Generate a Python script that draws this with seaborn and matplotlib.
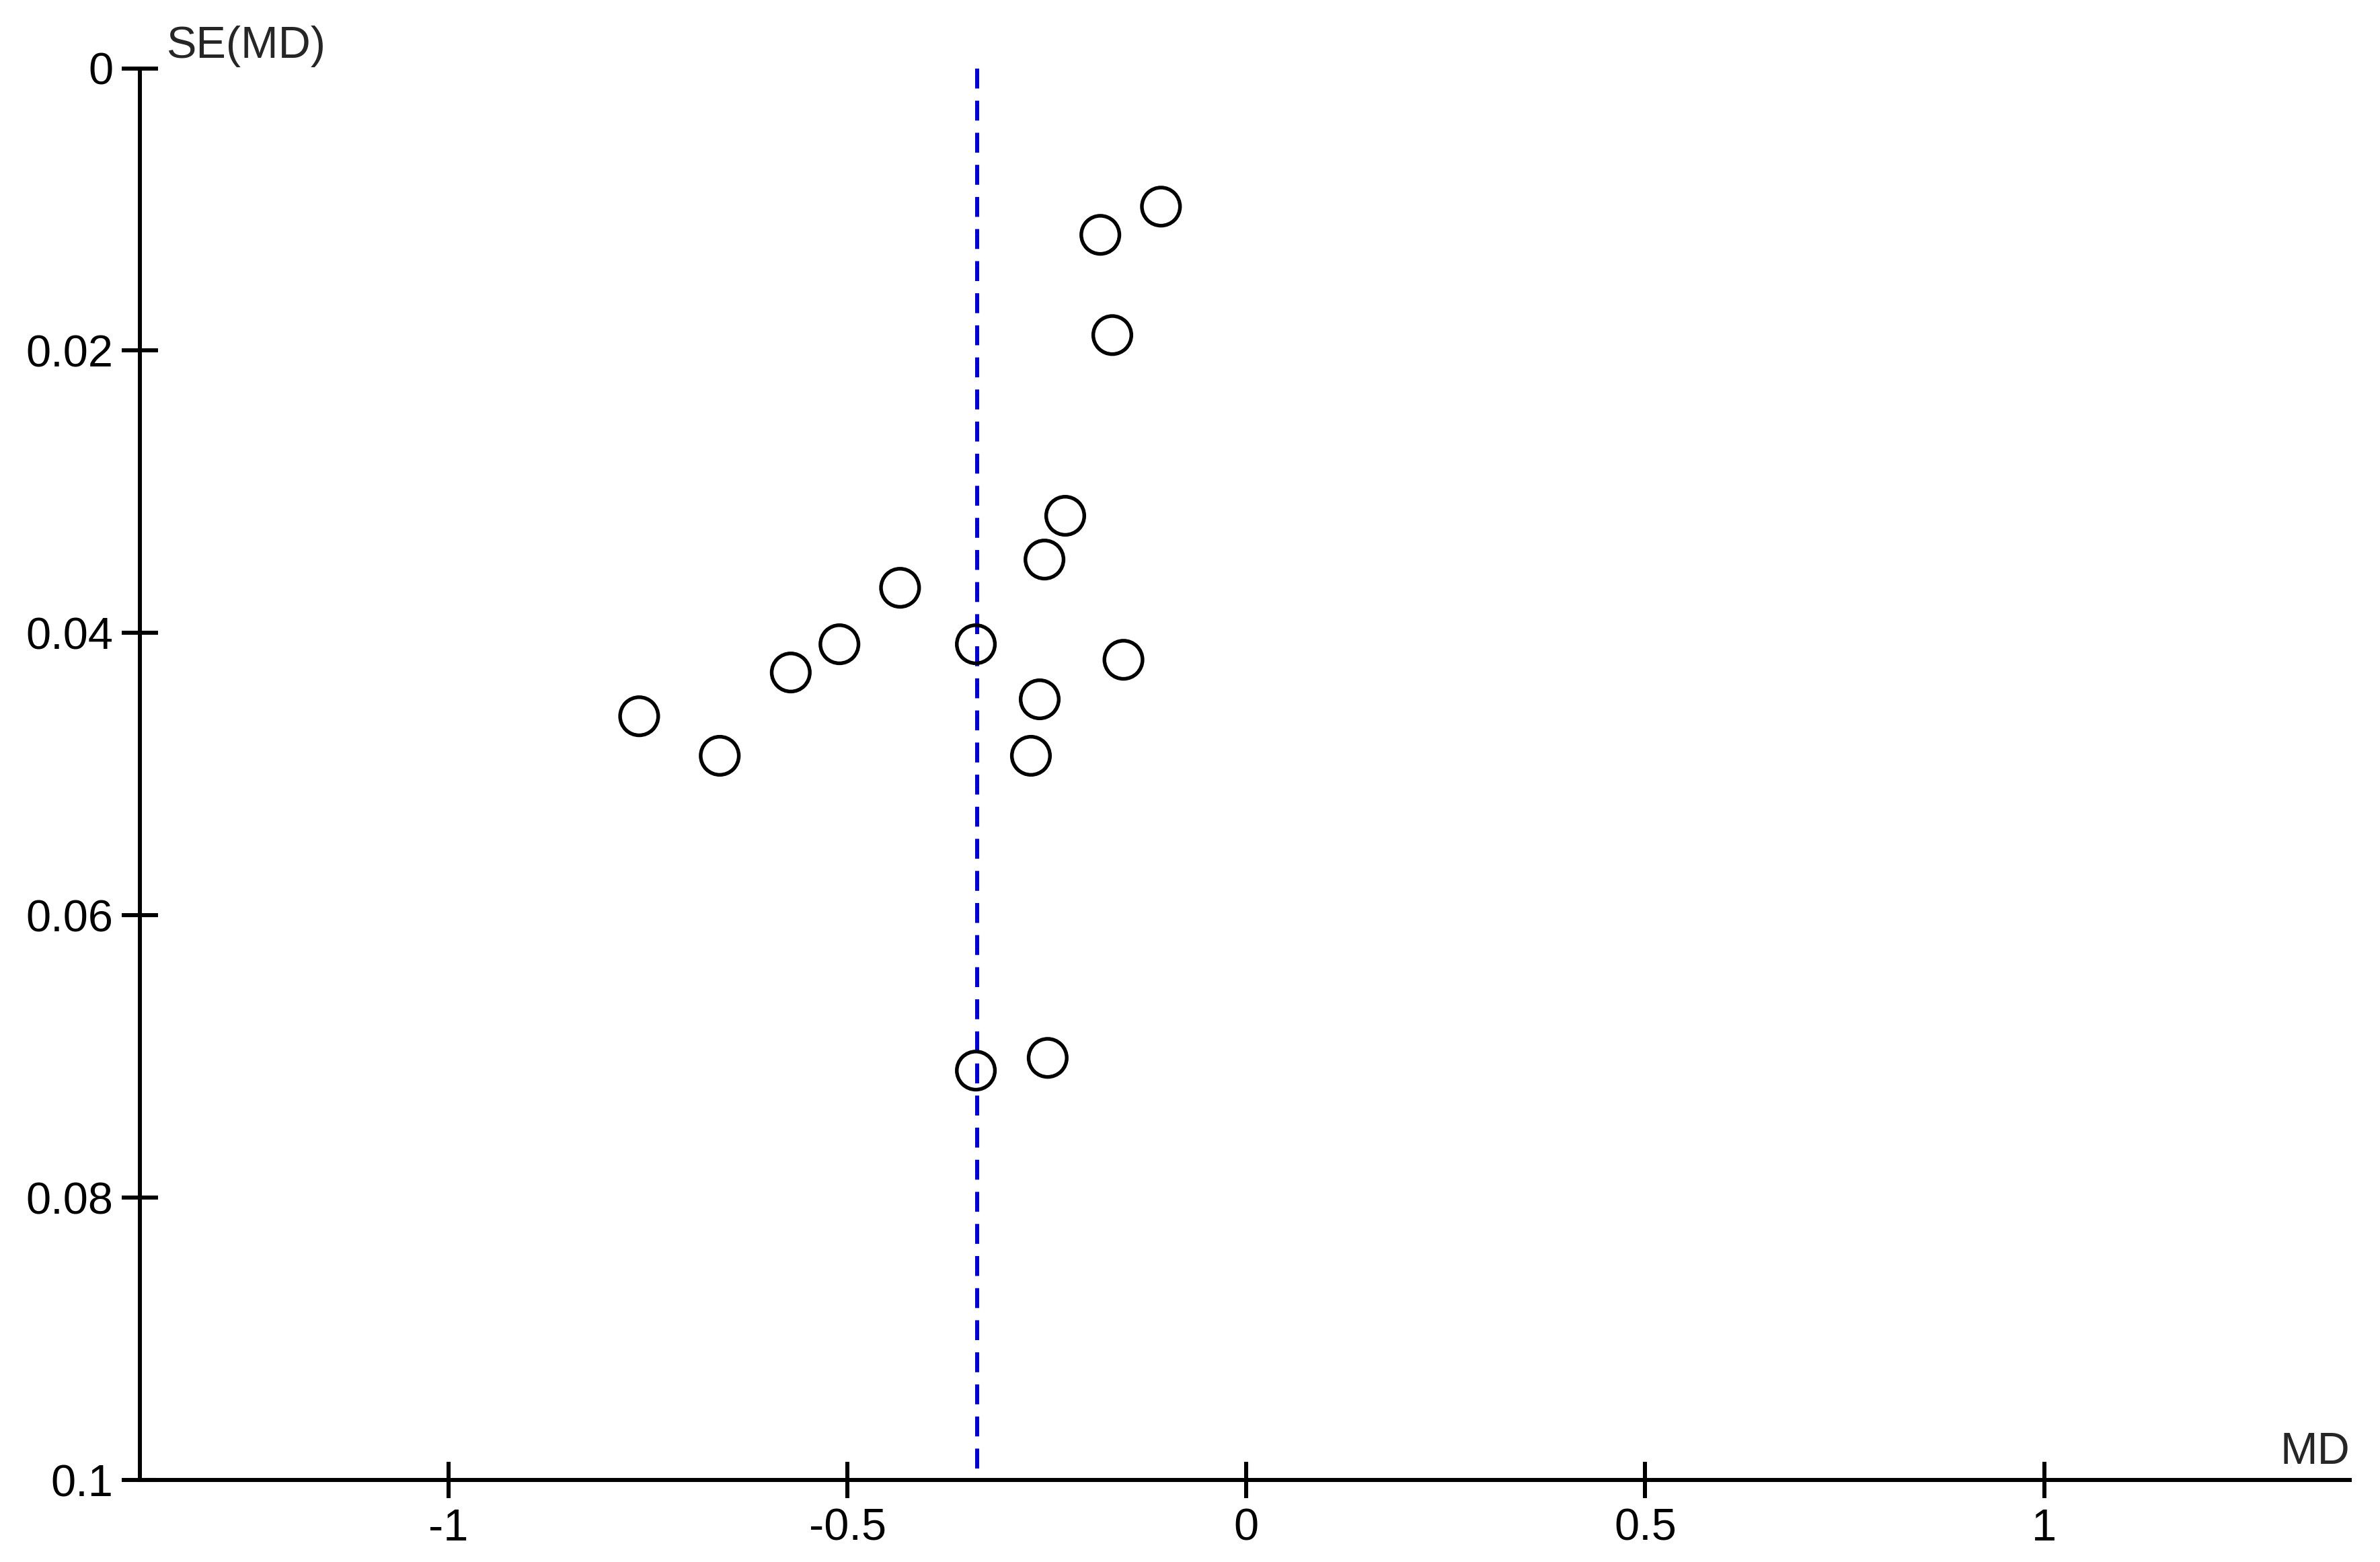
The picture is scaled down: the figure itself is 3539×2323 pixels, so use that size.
import numpy as np
import pandas as pd
import matplotlib
matplotlib.use("Agg")
import matplotlib.pyplot as plt
import seaborn as sns

# --- data ---
md = [-0.107, -0.183, -0.168, -0.227, -0.253, -0.434, -0.510, -0.339,
      -0.154, -0.571, -0.761, -0.259, -0.660, -0.270, -0.339, -0.249]
se_md = [0.0098, 0.0118, 0.0189, 0.0317, 0.0348, 0.0368, 0.0408, 0.0408,
         0.0419, 0.0428, 0.0459, 0.0447, 0.0487, 0.0487, 0.0710, 0.0701]
pooled_md = -0.337
x_ticks = [-1, -0.5, 0, 0.5, 1]
x_tick_labels = ["-1", "-0.5", "0", "0.5", "1"]
y_ticks = [0, 0.02, 0.04, 0.06, 0.08, 0.1]
y_tick_labels = ["0", "0.02", "0.04", "0.06", "0.08", "0.1"]

df = pd.DataFrame({"MD": md, "SE": se_md})

sns.set_style("white")
plt.rcParams["font.family"] = ["Liberation Sans", "DejaVu Sans"]

fig = plt.figure(figsize=(3539 / 300, 2323 / 300), dpi=300)
ax = fig.add_axes([0.0587, 0.0525, 0.9286, 0.9038])

# pooled estimate line
ax.plot([pooled_md, pooled_md], [0, 0.1], color="#0000CC", lw=1.45,
        linestyle=(0, (4.9, 3.0)), zorder=1)

sns.scatterplot(data=df, x="MD", y="SE", ax=ax, marker="o", s=185,
                facecolors="none", edgecolor="black", linewidth=1.3,
                zorder=3, legend=False)

ax.set_xlim(-1.387, 1.383)
ax.set_ylim(0.1, 0)
ax.set_xticks(x_ticks, x_tick_labels)
ax.set_yticks(y_ticks, y_tick_labels)
ax.set_xlabel("")
ax.set_ylabel("")

for side in ["top", "right"]:
    ax.spines[side].set_visible(False)
for side in ["left", "bottom"]:
    ax.spines[side].set_linewidth(1.45)
    ax.spines[side].set_color("black")

ax.tick_params(axis="both", direction="inout", length=13, width=1.45,
               color="black", labelsize=16, labelcolor="black",
               bottom=True, left=True)
ax.tick_params(axis="y", pad=3)
ax.tick_params(axis="x", pad=3.5)

ax.text(0.012, 1.0076, "SE(MD)", transform=ax.transAxes, fontsize=16,
        ha="left", va="baseline")
ax.text(1.0, 0.0114, "MD", transform=ax.transAxes, fontsize=16,
        ha="right", va="baseline")

fig.savefig("out.png", dpi=300, facecolor="white")
